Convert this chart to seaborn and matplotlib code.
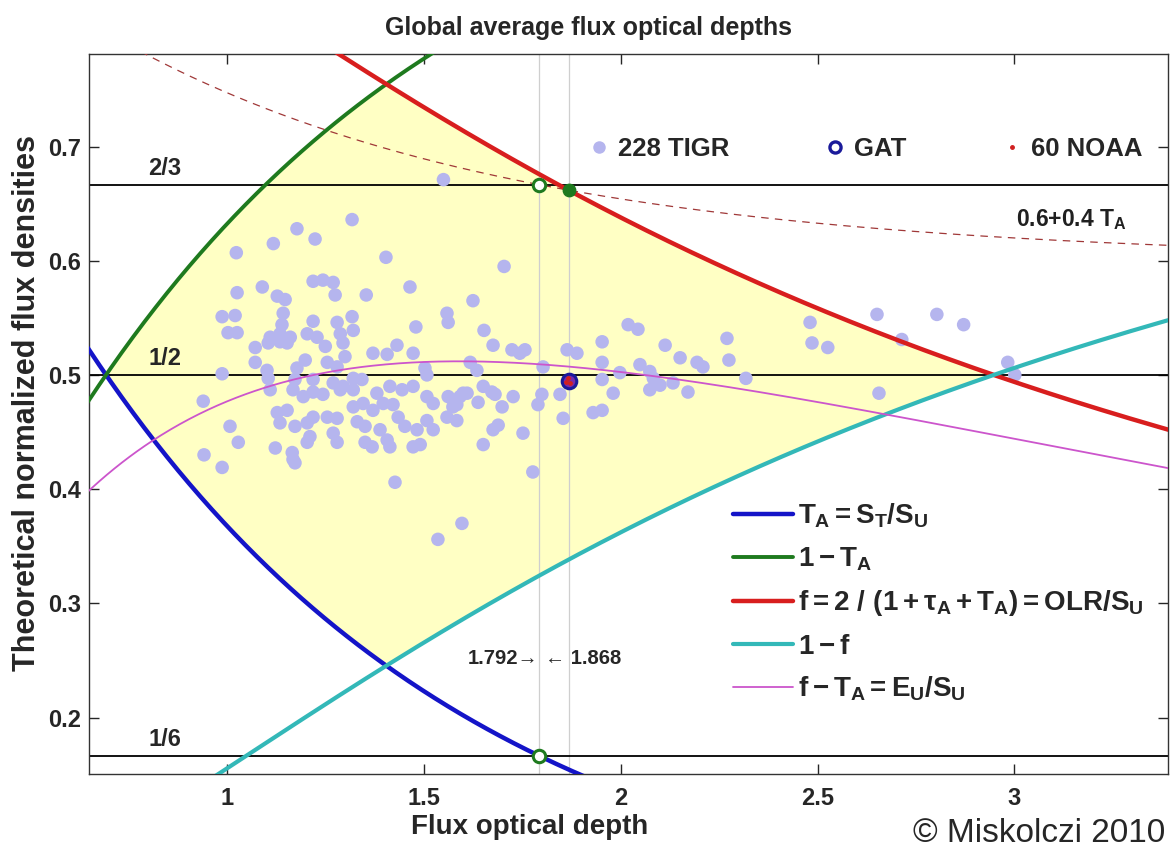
import numpy as np
import pandas as pd
import matplotlib
matplotlib.use("Agg")
import matplotlib.pyplot as plt
import seaborn as sns

# ---- TIGR radiosonde profiles: flux optical depth vs. normalized flux density ----
tigr_tau = [
    1.550, 1.318, 1.178, 1.224, 1.118, 1.024, 1.404, 1.704, 1.219, 1.244,
    1.270, 1.275, 1.354, 1.465, 1.026, 1.090, 1.128, 1.148, 1.625, 1.559,
    1.562, 0.988, 1.021, 1.003, 1.026, 1.143, 1.140, 1.135, 1.219, 1.204,
    1.318, 1.321, 1.280, 1.288, 1.295, 1.300, 1.480, 1.653, 1.676, 1.110,
    1.161, 1.135, 1.072, 1.432, 1.371, 1.407, 1.473, 1.229, 1.250, 1.105,
    1.153, 1.072, 1.102, 1.105, 0.988, 1.199, 1.178, 1.173, 1.255, 1.280,
    1.110, 1.270, 1.295, 1.321, 1.219, 1.168, 1.194, 1.219, 1.244, 1.288,
    1.321, 1.343, 1.381, 1.414, 1.445, 1.473, 0.940, 1.008, 1.029, 0.942,
    0.988, 1.128, 1.153, 1.135, 1.173, 1.204, 1.219, 1.255, 1.280, 1.321,
    1.346, 1.371, 1.331, 1.351, 1.397, 1.422, 1.435, 1.452, 1.389, 1.407,
    1.211, 1.204, 1.270, 1.280, 1.123, 1.166, 1.168, 1.173, 1.351, 1.369,
    1.414, 1.473, 1.483, 1.427, 1.597, 1.536, 1.777, 1.651, 1.491, 1.574,
    1.592, 1.610, 1.559, 1.584, 1.524, 1.508, 1.676, 1.689, 1.699, 1.638,
    1.724, 1.744, 1.757, 1.864, 1.889, 1.953, 2.019, 2.044, 1.618, 1.635,
    1.503, 1.508, 1.803, 1.953, 1.953, 1.998, 2.049, 2.074, 2.083, 2.074,
    1.846, 1.800, 1.790, 1.854, 1.930, 1.953, 1.981, 1.727, 1.651, 1.673,
    1.681, 1.752, 1.508, 1.524, 1.562, 1.584, 1.600, 2.113, 2.270, 2.481,
    2.486, 2.526, 2.651, 2.151, 2.194, 2.209, 2.275, 2.318, 2.714, 2.803,
    2.871, 2.656, 2.983, 3.001, 2.100, 2.133, 2.171,
]
tigr_flux = [
    0.671, 0.636, 0.628, 0.619, 0.615, 0.607, 0.603, 0.595, 0.582, 0.583,
    0.581, 0.570, 0.570, 0.577, 0.572, 0.577, 0.569, 0.566, 0.565, 0.554,
    0.546, 0.551, 0.552, 0.537, 0.537, 0.554, 0.544, 0.536, 0.547, 0.536,
    0.551, 0.539, 0.546, 0.536, 0.528, 0.516, 0.542, 0.539, 0.526, 0.533,
    0.533, 0.529, 0.524, 0.526, 0.519, 0.518, 0.519, 0.533, 0.525, 0.528,
    0.528, 0.511, 0.504, 0.497, 0.501, 0.513, 0.506, 0.496, 0.511, 0.507,
    0.487, 0.493, 0.490, 0.497, 0.496, 0.487, 0.481, 0.485, 0.483, 0.487,
    0.487, 0.496, 0.484, 0.490, 0.487, 0.490, 0.477, 0.455, 0.441, 0.430,
    0.419, 0.467, 0.469, 0.458, 0.455, 0.458, 0.463, 0.463, 0.462, 0.472,
    0.475, 0.469, 0.459, 0.455, 0.475, 0.474, 0.463, 0.455, 0.452, 0.443,
    0.446, 0.441, 0.449, 0.441, 0.436, 0.432, 0.426, 0.423, 0.441, 0.437,
    0.437, 0.437, 0.452, 0.406, 0.370, 0.356, 0.415, 0.439, 0.439, 0.472,
    0.481, 0.484, 0.463, 0.460, 0.452, 0.460, 0.452, 0.456, 0.472, 0.476,
    0.522, 0.519, 0.522, 0.522, 0.519, 0.529, 0.544, 0.540, 0.511, 0.504,
    0.506, 0.500, 0.507, 0.511, 0.496, 0.502, 0.509, 0.503, 0.497, 0.487,
    0.483, 0.483, 0.474, 0.462, 0.467, 0.469, 0.484, 0.481, 0.490, 0.485,
    0.483, 0.449, 0.481, 0.475, 0.481, 0.474, 0.484, 0.526, 0.532, 0.546,
    0.528, 0.524, 0.553, 0.515, 0.511, 0.507, 0.513, 0.497, 0.531, 0.553,
    0.544, 0.484, 0.511, 0.500, 0.491, 0.493, 0.485,
]

# ---- global average (GAT) and NOAA annual means ----
gat_tau = [1.868]
gat_flux = [0.495]
noaa_tau = [1.862, 1.866, 1.872]
noaa_flux = [0.494, 0.497, 0.493]

# ---- reference levels and marked optical depths ----
levels = [2 / 3, 1 / 2, 1 / 6]
level_labels = ["2/3", "1/2", "1/6"]
tau_marks = [1.792, 1.868]

x_ticks = [1, 1.5, 2, 2.5, 3]
x_tick_labels = ["1", "1.5", "2", "2.5", "3"]
y_ticks = [0.2, 0.3, 0.4, 0.5, 0.6, 0.7]


# ---- theoretical relations of the semi-transparent atmosphere ----
def transmittance(tau):
    return np.exp(-tau)


def flux_f(tau):
    return 2.0 / (1.0 + tau + np.exp(-tau))


tau = np.linspace(0.60, 3.45, 600)
T_A = transmittance(tau)
f = flux_f(tau)

curve_keys = ["ta", "one_minus_ta", "f", "one_minus_f", "eu"]
curves = pd.DataFrame({
    "tau": np.tile(tau, 5),
    "value": np.concatenate([T_A, 1 - T_A, f, 1 - f, f - T_A]),
    "curve": np.repeat(curve_keys, len(tau)),
})

sns.set_style("ticks")
plt.rcParams["font.family"] = ["Liberation Sans", "DejaVu Sans"]
plt.rcParams["font.weight"] = "bold"
plt.rcParams["mathtext.fontset"] = "custom"
plt.rcParams["mathtext.rm"] = "Liberation Sans:bold"
plt.rcParams["mathtext.it"] = "Liberation Sans:bold"
plt.rcParams["mathtext.bf"] = "Liberation Sans:bold"
plt.rcParams["mathtext.sf"] = "Liberation Sans:bold"

fig = plt.figure(figsize=(11.7, 8.52), dpi=100)
ax = fig.add_axes([0.0761, 0.0915, 0.9222, 0.8451])

# shaded admissible region between the bounding curves
lower = np.maximum(T_A, 1 - f)
upper = np.minimum(1 - T_A, f)
ax.fill_between(tau, lower, upper, where=upper >= lower, color="#FFFFC4",
                linewidth=0, zorder=0)

# thin vertical markers at the two optical depths
for t in tau_marks:
    ax.axvline(t, color="#CFCFCF", lw=0.9, zorder=1)

# horizontal reference levels
for lv, lab in zip(levels, level_labels):
    ax.axhline(lv, color="black", lw=1.3, zorder=2)
    ax.text(0.800, lv + 0.004, lab, fontsize=17, fontweight="bold",
            va="bottom", ha="left")

# TIGR profiles
sns.scatterplot(x=tigr_tau, y=tigr_flux, ax=ax, color="#B5B5EE", s=95,
                edgecolor="none", zorder=3, legend=False)

# dashed 0.6 + 0.4 T_A reference
ax.plot(tau, 0.6 + 0.4 * T_A, color="#A03838", lw=0.9, ls=(0, (6, 5)), zorder=4)
ax.text(3.005, 0.636, r"$0.6{+}0.4\ T_A$", fontsize=16.5, va="center",
        ha="left", color="#202020")

palette = {
    "ta": "#1414C8",
    "one_minus_ta": "#1E7A1E",
    "f": "#D81E1E",
    "one_minus_f": "#33B8B8",
    "eu": "#CC55CC",
}
widths = {"ta": 3.2, "one_minus_ta": 2.8, "f": 3.2, "one_minus_f": 3.0, "eu": 1.3}
labels = {
    "ta": r"$T_A = S_T/S_U$",
    "one_minus_ta": r"$1 - T_A$",
    "f": r"$f = 2\ /\ (1 + \tau_A + T_A) = OLR/S_U$",
    "one_minus_f": r"$1 - f$",
    "eu": r"$f - T_A = E_U/S_U$",
}
line_handles = []
for key in curve_keys:
    sub = curves[curves["curve"] == key]
    sns.lineplot(data=sub, x="tau", y="value", ax=ax, color=palette[key],
                 lw=widths[key], sort=False, estimator=None, zorder=5,
                 legend=False)
    line_handles.append(ax.lines[-1])

# special points on the reference levels
ax.scatter([tau_marks[0], tau_marks[0]], [levels[0], levels[2]], s=80,
           facecolor="white", edgecolor="#1E7A1E", linewidth=2.2, zorder=7)
ax.scatter([tau_marks[1]], [flux_f(tau_marks[1])], s=80, color="#1E7A1E",
           zorder=7)

# GAT and NOAA
ax.scatter(gat_tau, gat_flux, s=110, facecolor="#7A2AA8",
           edgecolor="#1A1A9A", linewidth=2.2, zorder=8)
ax.scatter(noaa_tau, noaa_flux, s=6, color="#D02020", zorder=9)

ax.text(1.791, 0.252, "1.792\u2192", fontsize=14.5, fontweight="bold",
        ha="right", va="center")
ax.text(1.808, 0.252, "\u2190 1.868", fontsize=14.5, fontweight="bold",
        ha="left", va="center")

# legends
tigr_handle = plt.Line2D([], [], marker="o", ls="none", markersize=9,
                         markerfacecolor="#B5B5EE", markeredgecolor="none")
gat_handle = plt.Line2D([], [], marker="o", ls="none", markersize=8,
                        markerfacecolor="white", markeredgecolor="#1A1A9A",
                        markeredgewidth=2.4)
noaa_handle = plt.Line2D([], [], marker="o", ls="none", markersize=2.5,
                         color="#D02020")
leg_pts = ax.legend([tigr_handle, gat_handle, noaa_handle],
                    ["228 TIGR", "GAT", "60 NOAA"], ncol=3, frameon=False,
                    loc="center left", bbox_to_anchor=(0.463, 0.868),
                    borderpad=0, borderaxespad=0,
                    prop={"size": 18.5, "weight": "bold"}, handletextpad=0.35,
                    columnspacing=3.7, handlelength=0.8)
ax.add_artist(leg_pts)

ax.legend(line_handles, [labels[k] for k in curve_keys], loc="upper left",
          bbox_to_anchor=(0.597, 0.378), frameon=False, borderpad=0,
          borderaxespad=0, prop={"size": 20, "weight": "bold"},
          handlelength=2.15, handletextpad=0.18, labelspacing=0.55)

ax.set_xlim(0.65, 3.39)
ax.set_ylim(0.1505, 0.781)
ax.set_xticks(x_ticks)
ax.set_xticklabels(x_tick_labels)
ax.set_yticks(y_ticks)
ax.tick_params(direction="in", length=7, width=1, top=True, right=True,
               labelsize=17)
ax.tick_params(axis="x", pad=9)
ax.tick_params(axis="y", pad=6)
for lab in ax.get_xticklabels() + ax.get_yticklabels():
    lab.set_fontweight("bold")
for sp in ax.spines.values():
    sp.set_linewidth(1.0)
    sp.set_color("#333333")

ax.set_xlabel("Flux optical depth", fontsize=20, fontweight="bold", labelpad=0)
ax.xaxis.set_label_coords(0.408, -0.055)
ax.set_ylabel("Theoretical normalized flux densities", fontsize=22,
              fontweight="bold")
ax.yaxis.set_label_coords(-0.044, 0.515)
ax.set_title("Global average flux optical depths", fontsize=18,
             fontweight="bold", x=0.4625, pad=14)
fig.text(0.996, 0.004, "\u00a9 Miskolczi 2010", fontsize=24,
         fontweight="normal", ha="right", va="bottom")

fig.savefig("out.png", dpi=100)
